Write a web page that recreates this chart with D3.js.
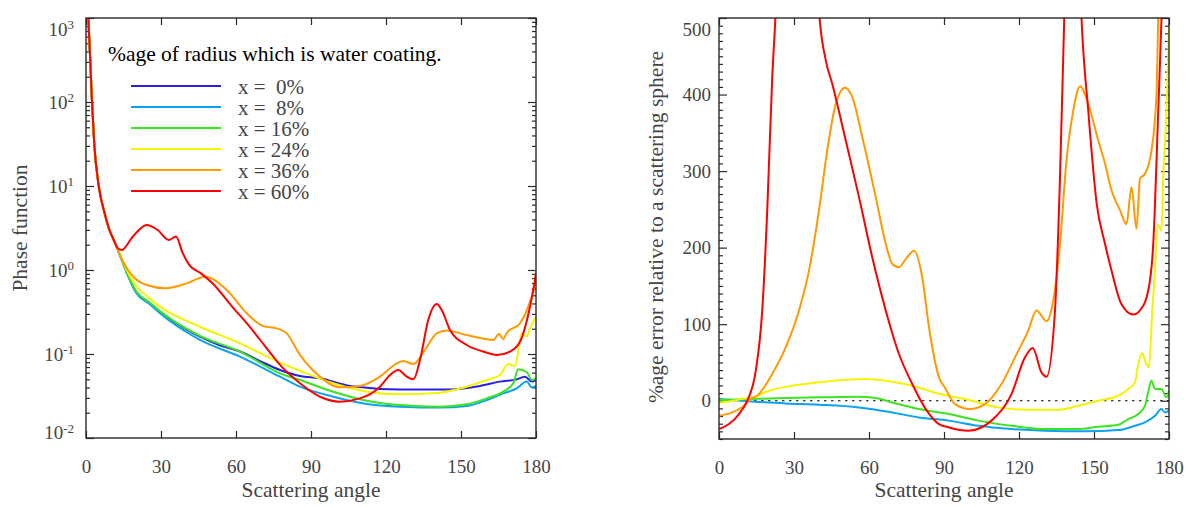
<!DOCTYPE html>
<html>
<head>
<meta charset="utf-8">
<script src="https://cdn.jsdelivr.net/npm/d3@7"></script>
<style>
  body { margin: 0; background: #fff; }
  text { font-family: "Liberation Serif", "Times New Roman", serif; }
</style>
</head>
<body>
<div id="chart"></div>
<script>
// Tick values and labels
const angleTicks = [0, 30, 60, 90, 120, 150, 180];
const phaseTicks = [1e-2, 1e-1, 1e0, 1e1, 1e2, 1e3];
const phaseExponents = ["-2", "-1", "0", "1", "2", "3"];
const errorTicks = [0, 100, 200, 300, 400, 500];
const coatingLabels = ["x =  0%", "x =  8%", "x = 16%", "x = 24%", "x = 36%", "x = 60%"];
const seriesColors = ["#2b1fe0", "#0ca2f2", "#3ce320", "#f4f400", "#ff9a00", "#ff0000"];

// Phase function: forward peak shared by every coating
const headAngle = [0, 1, 1.7, 2.4, 3.3, 5.1, 7.4, 9.1, 11.7];
const headValue = [2500, 891, 316, 100, 31.6, 10, 4.79, 3.16, 2.08];

// Phase function, x = 0%
const p0Angle = [14.3, 20, 25.6, 29.6, 37, 45.6, 53, 61.6, 70, 77.6, 85.6, 93.6, 105.6, 125.6, 145.6, 157.6, 165.6, 172.3, 175.6, 178.3, 180];
const p0Value = [1.32, 0.552, 0.401, 0.319, 0.224, 0.161, 0.129, 0.107, 0.0813, 0.0646, 0.0547, 0.0513, 0.0416, 0.0379, 0.0379, 0.0416, 0.0469, 0.0499, 0.0537, 0.0469, 0.049];
// x = 8%
const p8Angle = [14.3, 20, 25.6, 29.6, 45.6, 61.6, 77.6, 85.6, 98.9, 112.3, 125.6, 141.6, 152.3, 160.3, 166.9, 172.3, 176.3, 178.3, 180];
const p8Value = [1.31, 0.537, 0.389, 0.305, 0.147, 0.0929, 0.0537, 0.0408, 0.031, 0.0254, 0.0236, 0.023, 0.024, 0.0283, 0.034, 0.039, 0.0469, 0.0401, 0.0416];
// x = 16%
const p16Angle = [14.3, 20, 25.6, 29.6, 45.6, 61.6, 77.6, 85.6, 98.9, 112.3, 125.6, 141.6, 152.3, 160.3, 166.9, 170.9, 172.9, 176.3, 178.3, 180];
const p16Value = [1.32, 0.562, 0.407, 0.324, 0.164, 0.107, 0.0589, 0.049, 0.0356, 0.0278, 0.0247, 0.0236, 0.0252, 0.0296, 0.0356, 0.0448, 0.0658, 0.0611, 0.049, 0.0513];
// x = 24%
const p24Angle = [14.3, 20, 24, 29.6, 45.6, 61.6, 77.6, 85.6, 98.9, 112.3, 125.6, 138.9, 152.3, 160.3, 165.6, 168.9, 171.6, 174.3, 176.3, 177.6, 180];
const p24Value = [1.35, 0.646, 0.501, 0.366, 0.211, 0.134, 0.0789, 0.0631, 0.0448, 0.0356, 0.0331, 0.034, 0.0408, 0.049, 0.0562, 0.076, 0.0719, 0.176, 0.162, 0.204, 0.278];
// x = 36%
const p36Angle = [14.3, 18.9, 24.3, 31.6, 40.3, 47.6, 56.3, 64.3, 70.9, 76.3, 80.3, 85.6, 93.6, 101.6, 109.6, 117.6, 124.3, 126.9, 130.9, 135.6, 140.3, 144.3, 152.3, 162.9, 165.2, 166.9, 168.3, 173.6, 177.6, 179.6, 180];
const p36Value = [1.35, 0.832, 0.662, 0.605, 0.693, 0.832, 0.578, 0.305, 0.215, 0.202, 0.176, 0.0977, 0.0537, 0.0401, 0.0416, 0.0537, 0.0774, 0.0826, 0.076, 0.112, 0.176, 0.19, 0.168, 0.147, 0.173, 0.15, 0.179, 0.232, 0.42, 0.693, 1.0];
// x = 60%
const p60Angle = [12.5, 14.3, 18.7, 24.3, 28.7, 33.1, 36, 38.7, 41.3, 46, 51, 58, 65.6, 72, 77.6, 85.6, 93.6, 101.6, 109.6, 117.6, 121.6, 124.9, 128.3, 131, 133.6, 136.9, 140.3, 142.3, 145.6, 152.3, 158.9, 164.3, 169.6, 173.6, 177.6, 180];
const p60Value = [1.85, 1.73, 2.49, 3.44, 2.99, 2.28, 2.5, 1.585, 1.15, 0.912, 0.676, 0.38, 0.209, 0.12, 0.0741, 0.0448, 0.031, 0.0271, 0.0296, 0.0408, 0.0562, 0.0646, 0.0537, 0.0499, 0.0849, 0.254, 0.394, 0.334, 0.193, 0.128, 0.107, 0.0973, 0.107, 0.14, 0.366, 0.891];

// Percent error relative to the uncoated sphere
const e8Angle = [0, 13.3, 26.7, 40, 56, 69.3, 80, 92, 103.7, 117, 130.4, 146.4, 159.7, 166.4, 170.4, 174.4, 177, 178.4, 180];
const e8Value = [2.2, -0.9, -3.5, -5.2, -8.7, -15.3, -21.8, -26, -32.7, -37, -39.2, -40, -38.4, -32.7, -28.3, -19.6, -10.9, -15.3, -13];
const e16Angle = [0, 13.3, 26.7, 40, 56, 62.7, 69.3, 80, 92, 103.7, 117, 130.4, 143.7, 151.7, 159.7, 163.7, 167.7, 170.4, 171.5, 173, 174.4, 177, 179, 180];
const e16Value = [0.9, 2.2, 3.5, 4.4, 5.2, 3.5, -2.2, -10.9, -17.4, -26, -32.7, -37, -37, -34, -31.4, -24, -17.4, -6.5, 8.7, 26.2, 15.3, 15.3, 4.4, 13];
const e24Angle = [0, 4, 8.7, 13.3, 20, 29.3, 40, 50.7, 58.7, 66.7, 77.3, 88, 101, 111.7, 123.7, 135.7, 143.7, 151.7, 159.7, 163.7, 166.4, 167.7, 169.3, 170.7, 172, 173.3, 174.4, 175.5, 177, 177.7, 179, 180];
const e24Value = [-2.2, -1, 2.2, 4.4, 13, 19.6, 24, 27.5, 28.3, 26.2, 19.6, 9, 0, -8.7, -11.8, -11.8, -6.5, 0, 6.5, 15.3, 24, 48, 62, 50, 43.6, 118, 170, 231, 222, 292, 379, 488];
const e36Angle = [0, 5.3, 10.7, 12.5, 15.3, 21.3, 26.7, 32, 36, 40, 43.3, 46.7, 50.4, 53.3, 57.3, 62.7, 66.7, 69.3, 72, 74.7, 78, 81.3, 84, 88, 90.4, 94.4, 100.4, 106.4, 113, 118.4, 123.7, 127, 131, 133.7, 136.4, 139, 141.7, 144.4, 147.7, 151.7, 154.4, 157, 160.4, 163, 165, 167, 168.4, 170.4, 173, 175, 175.7, 178, 180];
const e36Value = [-19.6, -15.3, -4.4, 2, 6.5, 35, 70, 118, 170, 249, 327, 388, 409, 397, 344.5, 266, 205, 179, 174.4, 185, 196, 161, 96, 30.5, 17, -4.4, -10.9, -4.4, 21.8, 56.7, 91.6, 118, 104, 131, 205, 314, 379, 411, 388, 340, 310, 275, 249, 231, 279, 224.6, 290, 296.5, 327, 401, 500, 800, 1100];
const e60Angle = [0, 4, 8, 11.3, 14.7, 17.3, 19.3, 21.3, 22.7, 26, 31, 36, 40, 42.7, 45.3, 50.7, 56, 61.3, 66.7, 72, 77.3, 82.7, 88, 92, 99.7, 109, 117, 122.4, 125.5, 129, 131, 134.4, 136.4, 138.1, 141.5, 145, 147.7, 151.1, 154.4, 157, 161, 165.7, 168.4, 171.7, 173.7, 175.7, 177, 180];
const e60Value = [-37, -30.5, -17.4, 0, 39, 118, 249, 423, 510, 900, 1200, 900, 510, 445, 414, 340, 266, 187.5, 118, 61, 21.8, -10.9, -30.5, -34.9, -39.2, -26, 8.7, 56.7, 68.9, 37, 31.4, 118, 292, 500, 900, 500, 379, 257, 205, 170, 126, 112.5, 118, 144, 205, 379, 500, 1000];

const zip = (a, v) => a.map((d, i) => ({angle: d, value: v[i]}));

const phaseSeries = [
    zip(headAngle.concat(p0Angle), headValue.concat(p0Value)),
    zip(headAngle.concat(p8Angle), headValue.concat(p8Value)),
    zip(headAngle.concat(p16Angle), headValue.concat(p16Value)),
    zip(headAngle.concat(p24Angle), headValue.concat(p24Value)),
    zip(headAngle.concat(p36Angle), headValue.concat(p36Value)),
    zip(headAngle.concat(p60Angle), headValue.concat(p60Value))
];
// the 0% curve is the reference (the dotted zero line)
const errorSeries = [null, zip(e8Angle, e8Value), zip(e16Angle, e16Value), zip(e24Angle, e24Value),
    zip(e36Angle, e36Value), zip(e60Angle, e60Value)];

const textColor = "#454545";
const axisColor = "#2a2a2a";

const svg = d3.select("#chart").append("svg")
    .attr("width", 1187)
    .attr("height", 507);

const leftBox = {x0: 86, x1: 536, y0: 18, y1: 438};
const rightBox = {x0: 719, x1: 1169, y0: 18, y1: 439};

const xL = d3.scaleLinear().domain([0, 180]).range([leftBox.x0, leftBox.x1]);
const yL = d3.scaleLog().domain([1e-2, 1e3]).range([leftBox.y1, leftBox.y0]);
const xR = d3.scaleLinear().domain([0, 180]).range([rightBox.x0, rightBox.x1]);
const yR = d3.scaleLinear().domain([-50, 500]).range([rightBox.y1, rightBox.y0]);

const styleAxis = (g) => {
    g.select(".domain").remove();
    g.selectAll(".tick line").attr("stroke", axisColor).attr("stroke-width", 1.2);
    g.selectAll(".tick text")
        .attr("fill", textColor)
        .attr("font-size", 19)
        .attr("font-family", "'Liberation Serif', 'Times New Roman', serif");
};

const addClip = (id, box) => {
    svg.append("clipPath").attr("id", id)
        .append("rect")
        .attr("x", box.x0).attr("y", box.y0)
        .attr("width", box.x1 - box.x0).attr("height", box.y1 - box.y0);
};

const drawXAxes = (x, box) => {
    svg.append("g")
        .attr("transform", "translate(0," + box.y1 + ")")
        .call(d3.axisBottom(x).tickValues(angleTicks).tickSize(-7).tickPadding(21.5))
        .call(styleAxis);
    svg.append("g")
        .attr("transform", "translate(0," + box.y0 + ")")
        .call(d3.axisTop(x).tickValues(angleTicks).tickSize(-7).tickFormat(""))
        .call(styleAxis);
    svg.append("text")
        .attr("x", (box.x0 + box.x1) / 2)
        .attr("y", 497)
        .attr("text-anchor", "middle")
        .attr("font-size", 21.5)
        .attr("fill", textColor)
        .text("Scattering angle");
};

const drawFrame = (box) => {
    svg.append("rect")
        .attr("x", box.x0).attr("y", box.y0)
        .attr("width", box.x1 - box.x0).attr("height", box.y1 - box.y0)
        .attr("fill", "none")
        .attr("stroke", axisColor)
        .attr("stroke-width", 1.4);
};

// ---------- Left panel: phase function ----------
addClip("clipL", leftBox);
drawXAxes(xL, leftBox);

const logMinor = [];
for (let e = -2; e < 3; e++) {
    for (let m = 2; m <= 9; m++) logMinor.push(m * Math.pow(10, e));
}

svg.append("g")
    .attr("transform", "translate(" + leftBox.x0 + ",0)")
    .call(d3.axisLeft(yL).tickValues(phaseTicks).tickSize(-8).tickPadding(12))
    .call(styleAxis)
    .call(g => g.selectAll(".tick text").each(function (d, i) {
        const t = d3.select(this).text(null);
        if (i === phaseTicks.length - 1) t.attr("y", 11);
        if (i === 0) t.attr("y", -5.5);
        t.append("tspan").text("10");
        t.append("tspan").attr("dy", "-0.5em").attr("font-size", 13).text(phaseExponents[i]);
    }));
svg.append("g")
    .attr("transform", "translate(" + leftBox.x0 + ",0)")
    .call(d3.axisLeft(yL).tickValues(logMinor).tickSize(-4).tickFormat(""))
    .call(styleAxis);
svg.append("g")
    .attr("transform", "translate(" + leftBox.x1 + ",0)")
    .call(d3.axisRight(yL).tickValues(phaseTicks).tickSize(-8).tickFormat(""))
    .call(styleAxis);
svg.append("g")
    .attr("transform", "translate(" + leftBox.x1 + ",0)")
    .call(d3.axisRight(yL).tickValues(logMinor).tickSize(-4).tickFormat(""))
    .call(styleAxis);

svg.append("text")
    .attr("transform", "translate(27," + 228 + ") rotate(-90)")
    .attr("text-anchor", "middle")
    .attr("font-size", 21.5)
    .attr("fill", textColor)
    .text("Phase function");

const lineL = d3.line()
    .x(d => xL(d.angle))
    .y(d => yL(d.value))
    .curve(d3.curveMonotoneX);

svg.append("g").attr("clip-path", "url(#clipL)")
    .selectAll("path")
    .data(phaseSeries)
    .join("path")
    .attr("d", lineL)
    .attr("fill", "none")
    .attr("stroke", (d, i) => seriesColors[i])
    .attr("stroke-width", 2);

drawFrame(leftBox);

// Legend
const legend = svg.append("g");
legend.append("text")
    .attr("x", 108)
    .attr("y", 61)
    .attr("font-size", 21.5)
    .attr("fill", "#000")
    .text("%age of radius which is water coating.");

const legendRows = legend.selectAll("g.row")
    .data(coatingLabels)
    .join("g")
    .attr("class", "row")
    .attr("transform", (d, i) => "translate(0," + (86 + i * 21) + ")");
legendRows.append("line")
    .attr("x1", 131).attr("x2", 221)
    .attr("stroke", (d, i) => seriesColors[i])
    .attr("stroke-width", 2);
legendRows.append("text")
    .attr("x", 238)
    .attr("y", 8)
    .attr("font-size", 21)
    .attr("fill", textColor)
    .style("white-space", "pre")
    .text(d => d);

// ---------- Right panel: percentage error ----------
addClip("clipR", rightBox);
drawXAxes(xR, rightBox);

const errorMinor = d3.range(-50, 501, 10).filter(v => v % 100 !== 0);

svg.append("g")
    .attr("transform", "translate(" + rightBox.x0 + ",0)")
    .call(d3.axisLeft(yR).tickValues(errorTicks).tickSize(-8).tickPadding(8))
    .call(styleAxis)
    .call(g => g.selectAll(".tick text").filter(d => d === 500).attr("y", 11));
svg.append("g")
    .attr("transform", "translate(" + rightBox.x0 + ",0)")
    .call(d3.axisLeft(yR).tickValues(errorMinor).tickSize(-4).tickFormat(""))
    .call(styleAxis);
svg.append("g")
    .attr("transform", "translate(" + rightBox.x1 + ",0)")
    .call(d3.axisRight(yR).tickValues(errorTicks).tickSize(-8).tickFormat(""))
    .call(styleAxis);
svg.append("g")
    .attr("transform", "translate(" + rightBox.x1 + ",0)")
    .call(d3.axisRight(yR).tickValues(errorMinor).tickSize(-4).tickFormat(""))
    .call(styleAxis);

svg.append("text")
    .attr("transform", "translate(663," + 227 + ") rotate(-90)")
    .attr("text-anchor", "middle")
    .attr("font-size", 21.5)
    .attr("fill", textColor)
    .text("%age error relative to a scattering sphere");

svg.append("line")
    .attr("x1", xR(0)).attr("x2", xR(180))
    .attr("y1", yR(0)).attr("y2", yR(0))
    .attr("stroke", "#000")
    .attr("stroke-width", 1.2)
    .attr("stroke-dasharray", "2.5,4.5");

const lineR = d3.line()
    .x(d => xR(d.angle))
    .y(d => yR(d.value))
    .curve(d3.curveMonotoneX);

svg.append("g").attr("clip-path", "url(#clipR)")
    .selectAll("path")
    .data(errorSeries.map((s, i) => ({s, i})).filter(d => d.s))
    .join("path")
    .attr("d", d => lineR(d.s))
    .attr("fill", "none")
    .attr("stroke", d => seriesColors[d.i])
    .attr("stroke-width", 2);

drawFrame(rightBox);
</script>
</body>
</html>
